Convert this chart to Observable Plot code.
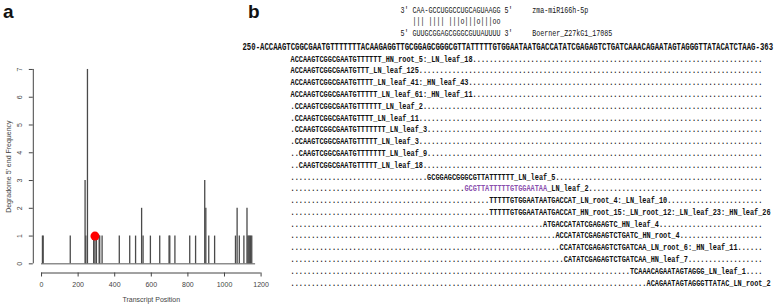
<!DOCTYPE html>
<html><head><meta charset="utf-8">
<script src="https://cdn.jsdelivr.net/npm/d3@7"></script>
<script src="https://cdn.jsdelivr.net/npm/@observablehq/plot@0.6"></script>
<style>
html,body{margin:0;padding:0;background:#fff;}
#wrap{position:relative;width:778px;height:304px;overflow:hidden;background:#fff;}
#wrap svg{position:absolute;top:0;background:transparent;}
.panel-label{position:absolute;font-family:"Liberation Sans",Arial,sans-serif;font-weight:bold;font-size:19px;line-height:19px;color:#111;}
</style></head><body>
<div id="wrap">
  <div class="panel-label" style="left:3px;top:2px">a</div>
  <div class="panel-label" style="left:248px;top:2px">b</div>
</div>
<script>
// ---------- Panel a data (degradome T-plot) ----------
const cutPositions  = [5, 9, 157, 238, 242, 251, 285, 300, 315, 318, 331, 425, 482, 514, 547, 555, 595, 646, 697, 701, 729, 810, 842, 892, 898, 914, 946, 1060, 1069, 1081, 1106, 1123, 1128, 1133, 1138, 1143, 1149];
const cutFrequency  = [1, 1, 1, 3, 1, 7, 1, 1, 1, 1, 1, 1, 1, 1, 2, 1, 1, 1, 1, 1, 1, 1, 1, 3, 2, 1, 1, 1, 2, 1, 1, 2, 1, 1, 1, 1, 1];
const targetPositions = [292];
const targetFrequency = [1];
const transcriptLength = 1170;
const xTicks = [0, 200, 400, 600, 800, 1000, 1200];
const yTicks = [0, 1, 2, 3, 4, 5, 6, 7];
const xTitle = "Transcript Position";
const yTitle = "Degradome 5' end Frequency";

// ---------- Panel b data (target alignment) ----------
const seqStart = 250, seqEnd = 363;
const transcriptSeq = "ACCAAGTCGGCGAATGTTTTTTTACAAGAGGTTGCGGAGCGGGCGTTATTTTTGTGGAATAATGACCATATCGAGAGTCTGATCAAACAGAATAGTAGGGTTATACATCTAAG";
const duplexLines = ["3\u2032 CAA-GCCUGGCCUGCAGUAAGG 5\u2032", "   ||| |||| |||o|||o|||oo", "5\u2032 GUUGCGGAGCGGGCGUUAUUUU 3\u2032"];
const duplexNames = ["zma-miR166h-5p", "", "Boerner_Z27kG1_17085"];
const readStarts = [1, 1, 1, 1, 2, 2, 2, 2, 3, 3, 34, 43, 49, 49, 62, 65, 66, 67, 83, 87];
const readSeqs = [
  "ACCAAGTCGGCGAATGTTTTTT", "ACCAAGTCGGCGAATGTTT", "ACCAAGTCGGCGAATGTTTT", "ACCAAGTCGGCGAATGTTTTT",
  "CCAAGTCGGCGAATGTTTTTT", "CCAAGTCGGCGAATGTTTT", "CCAAGTCGGCGAATGTTTTTTT", "CCAAGTCGGCGAATGTTTTT",
  "CAAGTCGGCGAATGTTTTTTT", "CAAGTCGGCGAATGTTTTT", "GCGGAGCGGGCGTTATTTTTT", "GCGTTATTTTTGTGGAATAA",
  "TTTTTGTGGAATAATGACCAT", "TTTTTGTGGAATAATGACCAT", "ATGACCATATCGAGAGTC", "ACCATATCGAGAGTCTGATC",
  "CCATATCGAGAGTCTGATCAA", "CATATCGAGAGTCTGATCAA", "TCAAACAGAATAGTAGGG", "ACAGAATAGTAGGGTTATAC"
];
const readLibraries = [
  "HN_root_5:_LN_leaf_18", "LN_leaf_125", "LN_leaf_41:_HN_leaf_43", "LN_leaf_61:_HN_leaf_11",
  "LN_leaf_2", "LN_leaf_11", "LN_leaf_3", "LN_leaf_3", "LN_leaf_9", "LN_leaf_18", "LN_leaf_5", "LN_leaf_2",
  "LN_root_4:_LN_leaf_10", "HN_root_15:_LN_root_12:_LN_leaf_23:_HN_leaf_26", "HN_leaf_4", "HN_root_4",
  "LN_root_6:_HN_leaf_11", "HN_leaf_7", "LN_leaf_1", "LN_root_2"
];
const highlightedRead = 11; // the cleavage-site read shown in purple

// ---------- Panel a ----------
const wrap = document.getElementById("wrap");
const xDomain = [-45, 1205];
const yDomain = [-0.33, 7.33];
const axisColor = "#444";
const sans = "'Liberation Sans', Arial, sans-serif";

const bars = cutPositions.map((p, i) => ({pos: p, freq: cutFrequency[i]}));
const targets = targetPositions.map((p, i) => ({pos: p, freq: targetFrequency[i]}));

const plotA = Plot.plot({
  width: 300, height: 304,
  marginLeft: 32.8, marginRight: 38.5, marginTop: 59.8, marginBottom: 31.5,
  x: {domain: xDomain},
  y: {domain: yDomain},
  style: {background: "transparent", fontFamily: sans, color: axisColor},
  marks: [
    Plot.ruleY([0], {x1: 0, x2: transcriptLength, stroke: "#555", strokeWidth: 1}),
    Plot.ruleX(bars, {x: "pos", y1: 0, y2: "freq", stroke: "#4a4a4a", strokeWidth: 1.3}),
    Plot.ruleX(targets, {x: "pos", y1: 0, y2: "freq", stroke: "#4a4a4a", strokeWidth: 1.3}),
    Plot.dot(targets, {x: "pos", y: "freq", r: 4.5, fill: "#ff0000", stroke: "none"}),
    Plot.ruleX([xDomain[0]], {y1: yTicks[0], y2: yTicks[yTicks.length - 1], stroke: axisColor}),
    Plot.ruleY([yDomain[0]], {x1: xTicks[0], x2: xTicks[xTicks.length - 1], stroke: axisColor}),
    Plot.axisX({ticks: xTicks, tickSize: 4, tickPadding: 5, tickFormat: "d", fontSize: 7, label: null, stroke: axisColor}),
    Plot.axisY({ticks: yTicks, tickSize: 4, tickFormat: () => "", label: null, stroke: axisColor}),
    Plot.text(yTicks, {x: xDomain[0], y: d => d, text: d => String(d), rotate: -90, dx: -13.5, fontSize: 7, fill: axisColor}),
    Plot.text([yTitle], {x: xDomain[0], y: 3.5, text: d => d, rotate: -90, dx: -24.8, fontSize: 7, fill: axisColor}),
    Plot.text([xTitle], {x: 600, y: yDomain[0], text: d => d, dy: 27, fontSize: 7, fill: axisColor})
  ]
});
plotA.style.left = "0px";
wrap.appendChild(plotA);

// ---------- Panel b ----------
const lineLength = seqEnd - seqStart + 1;
const readCharW = 4.14, seqCharW = 4.39, duplexCharW = 4.0;
const seqLineCol = -11.6;   // where "250-" begins, in read-column units
const duplexCol = 26.6;     // where the duplex block begins, in read-column units
const purple = "#8b4fae";
const monoAdvance = 0.6;    // em advance of the monospace font

const readSegments = [];
readSeqs.forEach((s, i) => {
  const row = 4 + i;
  const c0 = readStarts[i] - 1;
  const prefix = ".".repeat(c0);
  let tail = "_" + readLibraries[i];
  const total = c0 + s.length + tail.length;
  if (total < lineLength) tail += ".".repeat(lineLength - total);
  if (prefix.length) readSegments.push({row, col: 0, text: prefix, color: "#111"});
  readSegments.push({row, col: c0, text: s, color: i === highlightedRead ? purple : "#111"});
  readSegments.push({row, col: c0 + s.length, text: tail, color: "#111"});
});
const seqLine = [{row: 3, col: seqLineCol, text: `${seqStart}-${transcriptSeq}-${seqEnd}`}];
const duplex = duplexLines.map((l, i) => ({row: i, col: duplexCol, text: duplexNames[i] ? l.padEnd(33) + duplexNames[i] : l}));

const mono = "'Liberation Mono', 'Courier New', monospace";
const sizes = [9.5, 10, 9.5];
const plotB = Plot.plot({
  width: 538, height: 304,
  margin: 0,
  x: {domain: [0, lineLength], range: [50, 50 + lineLength * readCharW], axis: null},
  y: {domain: [0, 23], range: [11, 282], axis: null},
  color: {type: "identity"},
  style: {background: "transparent"},
  marks: [
    Plot.text(readSegments, {x: "col", y: "row", text: "text", fill: "color", textAnchor: "start", fontFamily: mono, fontSize: sizes[0], fontWeight: "bold"}),
    Plot.text(seqLine, {x: "col", y: "row", text: "text", fill: "#111", textAnchor: "start", fontFamily: mono, fontSize: sizes[1], fontWeight: "bold"}),
    Plot.text(duplex, {x: "col", y: "row", text: "text", fill: "#111", textAnchor: "start", fontFamily: mono, fontSize: sizes[2], dy: -2})
  ]
});
plotB.style.left = "240px";
wrap.appendChild(plotB);
// horizontally condense the monospace glyphs so each character fills its column
const charWidths = [readCharW, seqCharW, duplexCharW];
d3.select(plotB).selectAll('g[aria-label="text"]').each(function(_, gi) {
  const sx = charWidths[gi] / (sizes[gi] * monoAdvance);
  d3.select(this).selectAll("text").each(function() {
    const x = +(this.getAttribute("x") || 0);
    const t = this.getAttribute("transform") || "";
    const extra = x ? `translate(${x},0) scale(${sx},1) translate(${-x},0)` : `scale(${sx},1)`;
    this.setAttribute("transform", x ? `${t} ${extra}`.trim() : `${t} ${extra}`.trim());
  });
});
</script>
</body></html>
